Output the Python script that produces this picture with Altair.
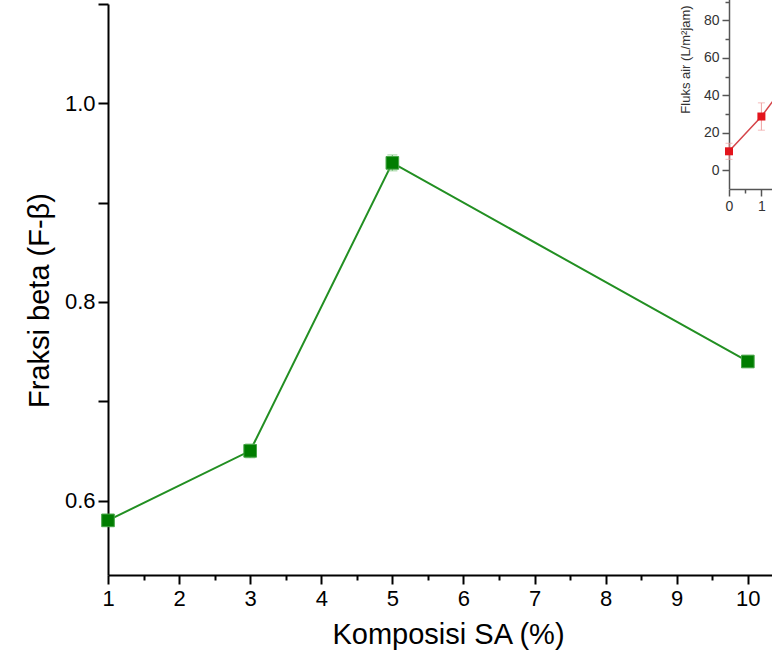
import altair as alt
import pandas as pd

# ---------------- data ----------------
komposisi_sa = [1, 3, 5, 10]
fraksi_beta = [0.58, 0.65, 0.94, 0.74]
fraksi_beta_err = [0.004, 0.007, 0.008, 0.004]

x_major_ticks = [1, 2, 3, 4, 5, 6, 7, 8, 9, 10]
x_minor_ticks = [1.5, 2.5, 3.5, 4.5, 5.5, 6.5, 7.5, 8.5, 9.5]
y_ticks = [0.6, 0.7, 0.8, 0.9, 1.0, 1.1]
y_tick_labels = ["0.6", "0.8", "1.0"]

# inset (cropped at the right edge of the figure)
inset_x = [0, 1, 2]
fluks_air = [10.0, 28.6, 52.0]
fluks_air_err = [4.3, 7.3, 7.0]
inset_x_major = [0, 1]
inset_x_minor = [0.5]
inset_y_major = [0, 20, 40, 60, 80]
inset_y_minor = [10, 30, 50, 70, 90]

FONT = "Liberation Sans"
GREEN = "#007d00"
GREEN_EDGE = "#46a546"
GREEN_LINE = "#228f22"
GREEN_ERR = "#6fbf6f"
RED = "#e3141c"
RED_LINE = "#d5454a"
RED_ERR = "#f0a0a0"
GRAY = "#555555"

W, H = 664, 571

main_df = pd.DataFrame({"x": komposisi_sa, "y": fraksi_beta})
main_df["lo"] = [v - e for v, e in zip(fraksi_beta, fraksi_beta_err)]
main_df["hi"] = [v + e for v, e in zip(fraksi_beta, fraksi_beta_err)]

inset_df = pd.DataFrame({"x": inset_x, "y": fluks_air})
inset_df["lo"] = [v - e for v, e in zip(fluks_air, fluks_air_err)]
inset_df["hi"] = [v + e for v, e in zip(fluks_air, fluks_air_err)]

# ---------------- main chart ----------------
x_scale = alt.Scale(domain=[1, 10.34], nice=False, zero=False)
y_scale = alt.Scale(domain=[0.525, 1.1], nice=False, zero=False)

x_axis = alt.Axis(
    orient="bottom", values=x_major_ticks, format="d", title="Komposisi SA (%)",
    tickSize=9, tickWidth=2, domainWidth=2, labelFontSize=22, labelPadding=4,
    labelFlush=False, labelOverlap=False, titleFontSize=29, titlePadding=11,
    titleX=340,
)
x_minor_axis = alt.Axis(
    orient="bottom", values=x_minor_ticks, labels=False, domain=False,
    tickSize=5, tickWidth=2, title=None,
)
label_test = " || ".join("datum.label == '%s'" % s for s in y_tick_labels)
y_axis = alt.Axis(
    orient="left", values=y_ticks, format=".1f", title="Fraksi beta (F-β)",
    labelExpr="(%s) ? datum.label : ''" % label_test,
    tickSize=10, tickWidth=2, domainWidth=2, labelFontSize=22, labelPadding=3,
    labelFlush=False, labelOverlap=False, titleFontSize=29, titlePadding=10,
    titleY=296,
)

ylayer = alt.Chart(main_df).mark_point(opacity=0).encode(
    x=alt.X("x:Q", scale=x_scale, axis=None),
    y=alt.Y("y:Q", scale=y_scale, axis=y_axis),
)
minor = alt.Chart(main_df).mark_point(opacity=0).encode(
    x=alt.X("x:Q", scale=x_scale, axis=x_minor_axis),
    y=alt.Y("y:Q", scale=y_scale, axis=None),
)
line = alt.Chart(main_df).mark_line(color=GREEN_LINE, strokeWidth=2).encode(
    x=alt.X("x:Q", scale=x_scale, axis=x_axis),
    y=alt.Y("y:Q", scale=y_scale, axis=None),
)
err = alt.Chart(main_df).mark_errorbar(
    color=GREEN_ERR, ticks={"size": 10}, rule={"strokeWidth": 1.2}
).encode(
    x=alt.X("x:Q", scale=x_scale, axis=None),
    y=alt.Y("lo:Q", scale=y_scale, axis=None),
    y2="hi:Q",
)
pts = alt.Chart(main_df).mark_square(
    size=160, color=GREEN, opacity=1, stroke=GREEN_EDGE, strokeWidth=1
).encode(
    x=alt.X("x:Q", scale=x_scale, axis=None),
    y=alt.Y("y:Q", scale=y_scale, axis=None),
)
main = alt.layer(ylayer, minor, line, err, pts).resolve_axis(x="independent", y="independent")

# ---------------- inset chart ----------------
ix_scale = alt.Scale(domain=[0, 1.327], range=[621, 664], nice=False, zero=False)
iy_scale = alt.Scale(domain=[-10, 95], range=[184.7, -11.65], nice=False, zero=False)

common_inset = dict(domainColor=GRAY, tickColor=GRAY, labelColor="#333333",
                    titleColor="#333333")
ix_axis = alt.Axis(
    orient="bottom", offset=-386, values=inset_x_major, format="d", title=None,
    tickSize=7, tickWidth=1.5, domainWidth=1.5, labelFontSize=14, labelPadding=3,
    labelFlush=False, labelOverlap=False, **common_inset,
)
ix_minor_axis = alt.Axis(
    orient="bottom", offset=-386, values=inset_x_minor, labels=False, domain=False,
    tickSize=4, tickWidth=1.5, title=None, tickColor=GRAY,
)
iy_axis = alt.Axis(
    orient="left", offset=-621, values=inset_y_major, format="d",
    title="Fluks air (L/m²jam)", titleFontSize=13, titleY=55, titlePadding=11,
    tickSize=7, tickWidth=1.5, domainWidth=1.5, labelFontSize=14, labelPadding=3,
    labelFlush=False, labelOverlap=False, **common_inset,
)
iy_minor_axis = alt.Axis(
    orient="left", offset=-621, values=inset_y_minor, labels=False, domain=False,
    tickSize=4, tickWidth=1.5, title=None, tickColor=GRAY,
)

iminor = alt.Chart(inset_df).mark_point(opacity=0).encode(
    x=alt.X("x:Q", scale=ix_scale, axis=ix_minor_axis),
    y=alt.Y("y:Q", scale=iy_scale, axis=iy_minor_axis),
)
iline = alt.Chart(inset_df).mark_line(color=RED_LINE, strokeWidth=1.5).encode(
    x=alt.X("x:Q", scale=ix_scale, axis=ix_axis),
    y=alt.Y("y:Q", scale=iy_scale, axis=iy_axis),
)
ierr = alt.Chart(inset_df).mark_errorbar(
    color=RED_ERR, ticks={"size": 7}, rule={"strokeWidth": 1}
).encode(
    x=alt.X("x:Q", scale=ix_scale, axis=None),
    y=alt.Y("lo:Q", scale=iy_scale, axis=None),
    y2="hi:Q",
)
ipts = alt.Chart(inset_df).mark_square(size=64, color=RED, opacity=1).encode(
    x=alt.X("x:Q", scale=ix_scale, axis=None),
    y=alt.Y("y:Q", scale=iy_scale, axis=None),
)
inset = alt.layer(iminor, iline, ierr, ipts).resolve_axis(x="independent", y="independent")

chart = (
    alt.layer(main, inset)
    .resolve_scale(x="independent", y="independent")
    .properties(
        width=W, height=H,
        autosize=alt.AutoSizeParams(type="none"),
        padding={"left": 108, "top": 4, "right": 0, "bottom": 88},
        background="white",
    )
    .configure_axis(
        grid=False, labelFont=FONT, titleFont=FONT, titleFontWeight="normal",
        domainColor="black", tickColor="black", labelColor="black", titleColor="black",
    )
    .configure_view(stroke=None)
)

chart.save("out.html", embed_options={"renderer": "svg", "actions": False})
